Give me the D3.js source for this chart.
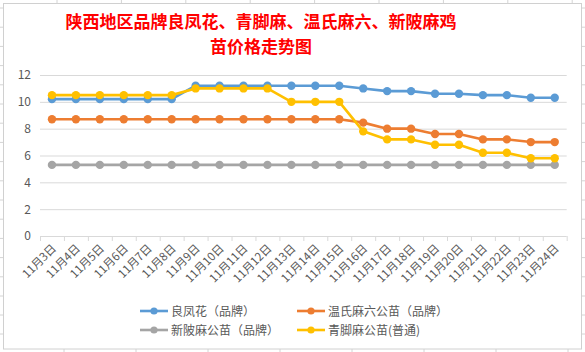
<!DOCTYPE html>
<html>
<head>
<meta charset="utf-8" />
<title>陕西地区苗价格走势图</title>
<script src="https://cdnjs.cloudflare.com/ajax/libs/d3/7.8.5/d3.min.js"></script>
<style>
  body { margin: 0; background: #fff; }
  text { font-family: "Noto Sans CJK SC", "Noto Sans", sans-serif; }
</style>
</head>
<body>
<svg id="chart" width="585" height="352"></svg>
<script>
  // data
  const days = ['11月3日','11月4日','11月5日','11月6日','11月7日','11月8日','11月9日','11月10日','11月11日','11月12日','11月13日',
                '11月14日','11月15日','11月16日','11月17日','11月18日','11月19日','11月20日','11月21日','11月22日','11月23日','11月24日']
  const liangfenghua = [10.2,10.2,10.2,10.2,10.2,10.2,11.2,11.2,11.2,11.2,11.2,11.2,11.2,11.0,10.8,10.8,10.6,10.6,10.5,10.5,10.3,10.3]
  const wenshi = [8.7,8.7,8.7,8.7,8.7,8.7,8.7,8.7,8.7,8.7,8.7,8.7,8.7,8.45,8.0,8.0,7.6,7.6,7.2,7.2,7.0,7.0]
  const xinbei = [5.3,5.3,5.3,5.3,5.3,5.3,5.3,5.3,5.3,5.3,5.3,5.3,5.3,5.3,5.3,5.3,5.3,5.3,5.3,5.3,5.3,5.3]
  const qingjiao = [10.5,10.5,10.5,10.5,10.5,10.5,11.0,11.0,11.0,11.0,10.0,10.0,10.0,7.8,7.2,7.2,6.8,6.8,6.2,6.2,5.8,5.8]
  const yTicks = [0,2,4,6,8,10,12]
  const seriesNames = ['良凤花（品牌）','温氏麻六公苗（品牌）','新陂麻公苗（品牌）','青脚麻公苗(普通)']
  const colors = ['#5B9BD5','#ED7D31','#A5A5A5','#FFC000']

  const series = [liangfenghua, wenshi, xinbei, qingjiao]
  const svg = d3.select('#chart')

  // spreadsheet cells peeking out around the chart box
  const cellX = d3.range(57, 585, 64.4)
  const cellY = d3.range(296, 0, -19.2)
  svg.selectAll('.cx').data(cellX).join('line')
    .attr('x1', d => d).attr('x2', d => d).attr('y1', 0).attr('y2', 3)
    .attr('stroke', '#d4d4d4')
  svg.selectAll('.bx').data(d3.range(64, 585, 72)).join('line')
    .attr('x1', d => d).attr('x2', d => d).attr('y1', 349).attr('y2', 352)
    .attr('stroke', '#d4d4d4')
  svg.selectAll('.cy').data(cellY.concat([315, 334])).join('line')
    .attr('x1', 0).attr('x2', 3).attr('y1', d => d).attr('y2', d => d)
    .attr('stroke', '#d4d4d4')
  svg.selectAll('.ry').data(cellY.concat([315, 334])).join('line')
    .attr('x1', 582).attr('x2', 585).attr('y1', d => d).attr('y2', d => d)
    .attr('stroke', '#d4d4d4')
  svg.append('rect').attr('x', 3.5).attr('y', 3.5).attr('width', 578).attr('height', 345.5)
    .attr('fill', '#fff').attr('stroke', '#d0d0d0')

  // title
  const title = svg.append('text').attr('text-anchor', 'middle')
    .attr('fill', '#FF0000').attr('font-weight', 'bold').attr('font-size', 17)
  title.append('tspan').attr('x', 261).attr('y', 28).text('陕西地区品牌良凤花、青脚麻、温氏麻六、新陂麻鸡')
  title.append('tspan').attr('x', 261).attr('y', 53).text('苗价格走势图')

  const plotLeft = 40, plotRight = 566.7, plotTop = 75, plotBottom = 236
  const x = d3.scaleBand().domain(days).range([plotLeft, plotRight])
  const xEdge = d3.scaleLinear().domain([0, days.length]).range([plotLeft, plotRight])
  const y = d3.scaleLinear().domain([0, 12]).range([plotBottom, plotTop])
  const cx = d => x(d) + x.bandwidth() / 2

  // gridlines
  const grid = svg.append('g').attr('transform', `translate(${plotLeft},0)`)
    .call(d3.axisRight(y).tickValues(yTicks.slice(1)).tickSize(plotRight - plotLeft).tickFormat(''))
  grid.select('.domain').remove()
  grid.selectAll('line').attr('stroke', '#d9d9d9')

  // y labels
  const yAxis = svg.append('g').attr('transform', `translate(${plotLeft},0)`)
    .call(d3.axisLeft(y).tickValues(yTicks).tickSize(0).tickPadding(9))
  yAxis.select('.domain').remove()
  yAxis.selectAll('text').attr('fill', '#595959').attr('font-size', 12)
    .style('font-family', '"Noto Sans CJK SC", sans-serif')

  // x axis line + ticks at category edges
  const xAxis = svg.append('g').attr('transform', `translate(0,${plotBottom})`)
    .call(d3.axisBottom(xEdge).tickValues(d3.range(days.length + 1)).tickSize(5).tickFormat(''))
  xAxis.select('.domain').attr('stroke', '#d9d9d9').attr('d', `M${plotLeft},0.5H${plotRight}`)
  xAxis.selectAll('line').attr('stroke', '#d9d9d9')

  svg.append('g').selectAll('text').data(days).join('text')
    .attr('transform', d => `translate(${cx(d) + 5},${plotBottom + 13}) rotate(-45)`)
    .attr('text-anchor', 'end')
    .attr('fill', '#595959').attr('font-size', 11.5)
    .text(d => d)

  // lines and markers
  const line = d3.line().x((v, i) => cx(days[i])).y(v => y(v))
  series.forEach((vals, k) => {
    const g = svg.append('g')
    g.append('path').attr('d', line(vals)).attr('fill', 'none')
      .attr('stroke', colors[k]).attr('stroke-width', 2.6).attr('stroke-linejoin', 'round')
    g.selectAll('circle').data(vals).join('circle')
      .attr('cx', (v, i) => cx(days[i])).attr('cy', v => y(v)).attr('r', 4.2)
      .attr('fill', colors[k])
  })

  // legend
  const legendPos = [[140, 311], [297, 311], [140, 330], [297, 330]]
  seriesNames.forEach((name, k) => {
    const [lx, ly] = legendPos[k]
    const g = svg.append('g').attr('transform', `translate(${lx},${ly})`)
    g.append('line').attr('x1', 0).attr('x2', 28).attr('stroke', colors[k]).attr('stroke-width', 2.6)
    g.append('circle').attr('cx', 14).attr('r', 3.6).attr('fill', colors[k])
    g.append('text').attr('x', 31).attr('y', 4.5).attr('fill', '#595959').attr('font-size', 12).text(name)
  })
</script>
</body>
</html>
